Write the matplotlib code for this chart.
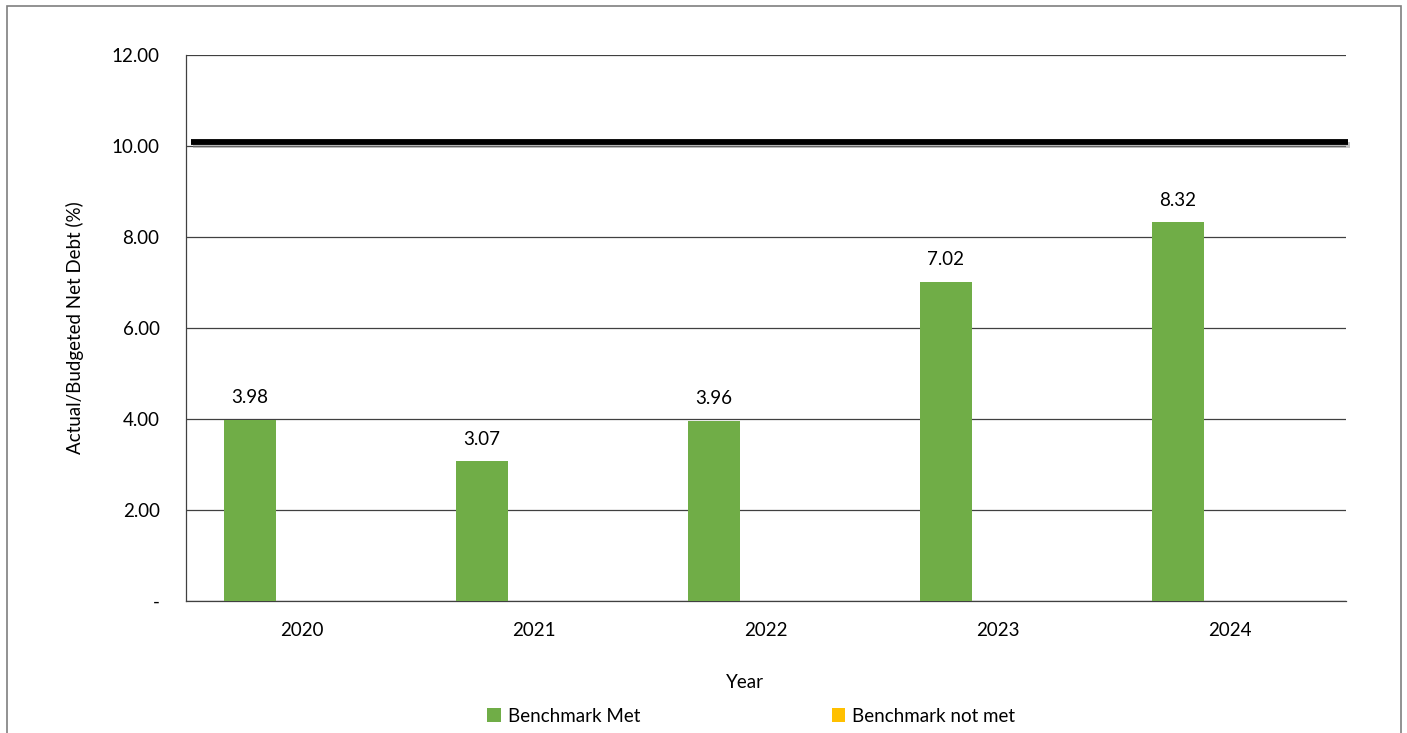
import matplotlib.pyplot as plt
import matplotlib.patheffects as pe
from matplotlib.patches import Rectangle
import numpy as np

years = ['2020', '2021', '2022', '2023', '2024']
met = [3.98, 3.07, 3.96, 7.02, 8.32]
not_met = [0, 0, 0, 0, 0]
benchmark = 10.08
yticks = [0, 2, 4, 6, 8, 10, 12]
ytick_labels = ['-', '2.00', '4.00', '6.00', '8.00', '10.00', '12.00']

green = '#70AD47'
yellow = '#FFC000'

plt.rcParams['font.family'] = ['Lato', 'DejaVu Sans']

fig = plt.figure(figsize=(14.07, 7.33), dpi=100)
ax = fig.add_axes([0.1322, 0.180, 0.8244, 0.745])

x = np.arange(len(years))
w = 0.224
ax.bar(x - w, met, width=w, color=green, zorder=3, label='Benchmark Met')
ax.bar(x, not_met, width=w, color=yellow, linewidth=0, zorder=3, label='Benchmark not met')

for xi, v in zip(x, met):
    ax.text(xi - w, v + 0.3, f'{v:.2f}', ha='center', va='bottom', fontsize=13.5)

ax.axhline(benchmark, xmin=0.004, xmax=1.002, color='black', lw=4.2, zorder=4, clip_on=False,
           solid_capstyle='butt',
           path_effects=[pe.SimpleLineShadow(offset=(1.5, -2.2), shadow_color='#888888', alpha=0.5),
                         pe.Normal()])

ax.set_xlim(-0.5, 4.5)
ax.set_ylim(0, 12)
ax.set_yticks(yticks)
ax.set_yticklabels(ytick_labels)
ax.set_xticks(x)
ax.set_xticklabels(years)
ax.tick_params(axis='y', length=0, pad=19, labelsize=13.5)
ax.tick_params(axis='x', length=0, pad=15, labelsize=13.5)
ax.yaxis.grid(True, color='#404040', lw=0.9, zorder=1)
ax.set_axisbelow(True)
for s in ['top', 'right']:
    ax.spines[s].set_visible(False)
for s in ['left', 'bottom']:
    ax.spines[s].set_color('#404040')
    ax.spines[s].set_linewidth(0.9)

ax.set_ylabel('Actual/Budgeted Net Debt (%)', fontsize=13.5, labelpad=20)
fig.text(0.5295, 1 - 683 / 733, 'Year', ha='center', va='center', fontsize=13.5)

fig.legend(loc='center', bbox_to_anchor=(0.534, 1 - 716 / 733), ncol=2, frameon=False,
           fontsize=13.5, handlelength=0.7, handleheight=0.7, handletextpad=0.4,
           columnspacing=10.2)

fig.patches.append(Rectangle((0.005, -0.05), 0.9907, 0.9918 + 0.05, transform=fig.transFigure,
                             fill=False, edgecolor='#7f7f7f', lw=1.2))

fig.savefig('out.png', dpi=100)
